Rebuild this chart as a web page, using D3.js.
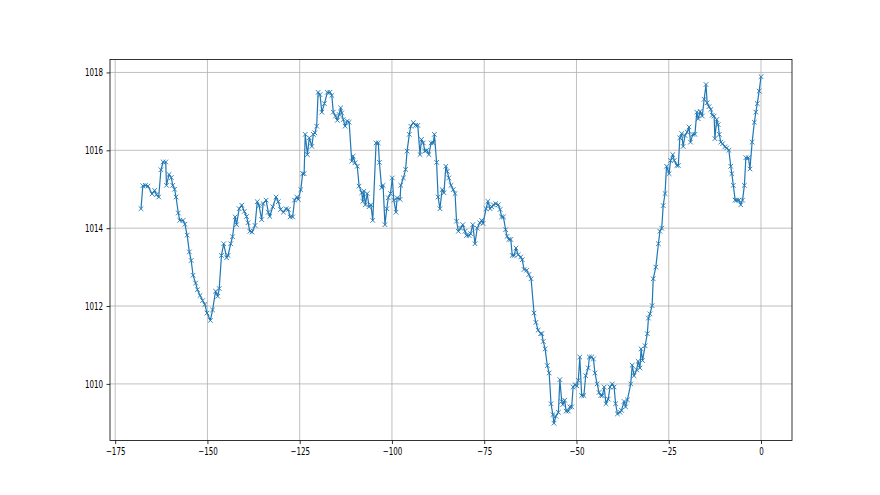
<!DOCTYPE html>
<html>
<head>
  <script src="https://d3js.org/d3.v7.min.js"></script>
  <style>
    body { margin: 0; background: #ffffff; }
    text { font-family: 'DejaVu Sans', sans-serif; font-size: 10px; fill: #000; }
  </style>
</head>
<body>
  <div id="chart"></div>
  <script>
    // hours relative to now, pressure in hPa
    var hours = [
      -168.0, -167.5, -166.8, -166.1, -165.0, -164.3, -163.8, -163.2, -162.6, -162.0,
      -161.3, -161.1, -160.4, -159.8, -159.4, -158.9, -158.5, -157.9, -157.5, -156.6,
      -156.1, -155.5, -154.9, -154.4, -153.9, -153.2, -152.7, -152.0, -151.3, -150.7,
      -150.1, -149.2, -148.6, -147.8, -147.2, -146.8, -146.2, -145.6, -144.8, -144.4,
      -143.7, -143.2, -142.5, -142.1, -141.4, -140.7, -140.0, -139.4, -139.0, -138.5,
      -137.9, -137.1, -136.5, -136.0, -135.3, -134.9, -134.1, -133.5, -133.1, -132.3,
      -131.4, -130.8, -130.2, -129.4, -128.7, -128.1, -127.6, -126.9, -126.4, -125.8,
      -125.4, -124.7, -124.2, -123.8, -123.5, -122.9, -122.4, -121.7, -121.3, -120.9,
      -120.4, -120.0, -119.5, -119.0, -118.3, -117.5, -116.8, -116.3, -115.9, -115.3,
      -114.8, -114.3, -113.9, -113.6, -113.2, -112.7, -112.1, -111.6, -110.9, -110.5,
      -110.0, -109.4, -108.9, -108.2, -107.9, -107.6, -107.2, -106.7, -106.2, -105.7,
      -105.2, -104.3, -103.7, -103.4, -102.8, -102.4, -101.9, -101.4, -101.0, -100.4,
      -99.9, -99.5, -98.9, -98.6, -97.8, -97.6, -96.9, -96.3, -95.9, -95.3,
      -94.9, -94.2, -93.6, -93.0, -92.4, -92.0, -91.5, -91.1, -90.6, -90.0,
      -89.4, -88.8, -88.5, -87.9, -87.5, -87.0, -86.4, -85.9, -85.4, -85.0,
      -84.6, -84.0, -83.4, -82.9, -82.5, -82.0, -81.4, -80.8, -80.2, -79.8,
      -79.1, -78.7, -78.1, -77.5, -76.9, -76.2, -75.7, -75.3, -74.5, -74.0,
      -73.4, -73.0, -72.5, -71.9, -71.2, -70.7, -70.3, -69.8, -69.2, -68.8,
      -68.3, -67.8, -67.4, -66.9, -66.4, -65.8, -65.1, -64.7, -64.2, -63.5,
      -62.9, -62.3, -61.5, -61.0, -60.4, -59.7, -59.4, -59.0, -58.5, -57.9,
      -57.4, -56.9, -56.4, -56.1, -55.6, -54.9, -54.5, -54.0, -53.7, -53.2,
      -52.8, -52.2, -51.8, -51.3, -50.9, -50.4, -49.9, -49.5, -49.1, -48.6,
      -48.0, -47.5, -46.8, -46.5, -45.9, -45.4, -45.0, -44.4, -43.9, -43.4,
      -43.0, -42.5, -42.0, -41.4, -40.9, -40.3, -39.8, -39.4, -38.9, -38.2,
      -37.8, -37.1, -36.7, -36.2, -35.3, -34.9, -34.4, -33.7, -33.3, -32.8,
      -32.5, -32.1, -31.4, -30.8, -30.5, -30.1, -29.5, -29.2, -28.5, -27.8,
      -27.4, -26.9, -26.5, -26.0, -25.6, -24.9, -24.5, -23.9, -23.5, -22.8,
      -22.4, -22.0, -21.5, -21.1, -20.6, -20.0, -19.5, -19.1, -18.5, -17.9,
      -17.4, -17.0, -16.5, -15.9, -15.4, -14.9, -14.6, -14.1, -13.6, -13.2,
      -12.7, -12.5, -12.0, -11.6, -11.3, -10.9, -10.4, -9.8, -9.3, -8.7,
      -8.2, -7.9, -7.5, -7.0, -6.6, -6.0, -5.5, -5.0, -4.5, -4.1,
      -3.4, -3.0, -2.4, -1.8, -1.4, -1.0, -0.5, 0.0
    ];

    var pressure = [
      1014.50, 1015.09, 1015.10, 1015.08, 1014.88, 1014.97, 1014.86, 1014.80, 1015.50, 1015.70,
      1015.70, 1015.10, 1015.38, 1015.30, 1015.10, 1015.00, 1014.80, 1014.39, 1014.20, 1014.20,
      1014.10, 1013.82, 1013.39, 1013.17, 1012.79, 1012.59, 1012.42, 1012.27, 1012.14, 1012.04,
      1011.82, 1011.63, 1011.90, 1012.38, 1012.25, 1012.45, 1013.30, 1013.60, 1013.24, 1013.30,
      1013.60, 1013.78, 1014.29, 1014.09, 1014.50, 1014.59, 1014.43, 1014.30, 1014.14, 1013.92,
      1013.90, 1014.07, 1014.68, 1014.58, 1014.22, 1014.63, 1014.72, 1014.41, 1014.30, 1014.55,
      1014.80, 1014.68, 1014.48, 1014.41, 1014.50, 1014.48, 1014.29, 1014.29, 1014.72, 1014.80,
      1014.74, 1014.99, 1015.40, 1015.40, 1016.41, 1015.89, 1016.32, 1016.10, 1016.41, 1016.45,
      1016.62, 1017.49, 1017.43, 1016.98, 1017.20, 1017.49, 1017.49, 1017.41, 1016.98, 1016.88,
      1016.77, 1016.92, 1017.09, 1016.96, 1016.79, 1016.62, 1016.75, 1016.72, 1015.72, 1015.85,
      1015.68, 1015.59, 1015.08, 1014.91, 1014.69, 1014.95, 1014.60, 1014.89, 1014.55, 1014.60,
      1014.20, 1016.19, 1016.19, 1015.69, 1015.04, 1015.10, 1014.09, 1014.50, 1014.78, 1014.89,
      1015.29, 1014.72, 1014.41, 1014.78, 1014.74, 1015.10, 1015.29, 1015.51, 1015.98, 1016.41,
      1016.62, 1016.71, 1016.64, 1016.64, 1015.89, 1016.28, 1016.19, 1015.98, 1016.00, 1015.89,
      1016.19, 1016.19, 1016.41, 1015.69, 1014.80, 1014.50, 1014.99, 1014.91, 1015.59, 1015.46,
      1015.29, 1015.10, 1014.99, 1014.89, 1014.18, 1013.92, 1014.00, 1014.09, 1013.92, 1013.81,
      1013.81, 1013.86, 1014.09, 1013.60, 1014.00, 1014.14, 1014.20, 1014.12, 1014.50, 1014.69,
      1014.50, 1014.55, 1014.60, 1014.63, 1014.60, 1014.48, 1014.29, 1014.29, 1013.96, 1013.79,
      1013.71, 1013.71, 1013.30, 1013.30, 1013.49, 1013.32, 1013.26, 1013.19, 1012.94, 1012.92,
      1012.81, 1012.70, 1011.82, 1011.58, 1011.38, 1011.29, 1011.29, 1011.09, 1010.90, 1010.47,
      1010.28, 1009.49, 1009.21, 1008.99, 1009.17, 1009.27, 1010.11, 1009.55, 1009.47, 1009.58,
      1009.30, 1009.30, 1009.41, 1009.41, 1009.92, 1009.98, 1009.95, 1010.09, 1010.69, 1009.70,
      1009.70, 1010.21, 1010.41, 1010.69, 1010.69, 1010.64, 1010.28, 1010.00, 1009.78, 1009.70,
      1009.70, 1009.92, 1009.49, 1009.61, 1009.92, 1010.00, 1009.92, 1009.49, 1009.23, 1009.27,
      1009.32, 1009.55, 1009.41, 1009.59, 1010.00, 1010.48, 1010.21, 1010.36, 1010.58, 1010.41,
      1010.90, 1010.60, 1010.98, 1011.29, 1011.69, 1011.80, 1012.01, 1012.70, 1013.00, 1013.60,
      1013.92, 1014.00, 1014.58, 1014.89, 1015.59, 1015.40, 1015.74, 1015.89, 1015.74, 1015.61,
      1015.61, 1016.32, 1016.43, 1016.10, 1016.38, 1016.47, 1016.60, 1016.21, 1016.41, 1016.41,
      1016.98, 1016.81, 1017.00, 1016.88, 1017.31, 1017.69, 1017.22, 1017.12, 1017.05, 1016.90,
      1016.88, 1016.30, 1016.79, 1016.66, 1016.41, 1016.21, 1016.17, 1016.09, 1016.06, 1016.00,
      1015.59, 1015.40, 1015.10, 1014.72, 1014.72, 1014.72, 1014.60, 1014.72, 1015.10, 1015.81,
      1015.81, 1015.52, 1016.21, 1016.72, 1016.98, 1017.20, 1017.52, 1017.89
    ];

    var xTicks = [-175, -150, -125, -100, -75, -50, -25, 0];
    var yTicks = [1010, 1012, 1014, 1016, 1018];

    var width = 880, height = 495;
    var margin = { top: 59.4, right: 88, bottom: 54.45, left: 110 };
    var blue = "#1f77b4";

    var data = hours.map(function (h, i) { return { x: h, y: pressure[i] }; });

    // matplotlib style 5% padding
    function padded(ext) {
      var d = (ext[1] - ext[0]) * 0.05;
      return [ext[0] - d, ext[1] + d];
    }

    var x = d3.scaleLinear()
      .domain(padded(d3.extent(hours)))
      .range([margin.left, width - margin.right]);

    var y = d3.scaleLinear()
      .domain(padded(d3.extent(pressure)))
      .range([height - margin.bottom, margin.top]);

    var svg = d3.select("#chart").append("svg")
      .attr("width", width)
      .attr("height", height);

    var fmt = function (d) { return String(d).replace("-", "\u2212"); };

    // grid
    var grid = svg.append("g").attr("class", "grid")
      .attr("stroke", "#b0b0b0")
      .attr("stroke-width", 0.8);

    grid.selectAll("line.vx")
      .data(xTicks)
      .enter().append("line")
      .attr("x1", function (d) { return x(d); })
      .attr("x2", function (d) { return x(d); })
      .attr("y1", margin.top)
      .attr("y2", height - margin.bottom);

    grid.selectAll("line.hy")
      .data(yTicks)
      .enter().append("line")
      .attr("y1", function (d) { return y(d); })
      .attr("y2", function (d) { return y(d); })
      .attr("x1", margin.left)
      .attr("x2", width - margin.right);

    // line + markers
    var line = d3.line()
      .x(function (d) { return x(d.x); })
      .y(function (d) { return y(d.y); });

    svg.append("path")
      .datum(data)
      .attr("fill", "none")
      .attr("stroke", blue)
      .attr("stroke-width", 1.2)
      .attr("stroke-linejoin", "round")
      .attr("d", line);

    var ms = 2.3;
    svg.append("g")
      .selectAll("path")
      .data(data)
      .enter().append("path")
      .attr("d", function (d) {
        var px = x(d.x), py = y(d.y);
        return "M" + (px - ms) + "," + (py - ms) + "L" + (px + ms) + "," + (py + ms) +
          "M" + (px - ms) + "," + (py + ms) + "L" + (px + ms) + "," + (py - ms);
      })
      .attr("stroke", blue)
      .attr("stroke-width", 0.9)
      .attr("fill", "none");

    // axes
    var xAxis = d3.axisBottom(x).tickValues(xTicks).tickFormat(fmt)
      .tickSize(3.5).tickPadding(3.5);
    var yAxis = d3.axisLeft(y).tickValues(yTicks).tickFormat(fmt)
      .tickSize(3.5).tickPadding(3.5);

    var gx = svg.append("g")
      .attr("transform", "translate(0," + (height - margin.bottom) + ")")
      .call(xAxis);
    var gy = svg.append("g")
      .attr("transform", "translate(" + margin.left + ",0)")
      .call(yAxis);

    [gx, gy].forEach(function (g) {
      g.select(".domain").remove();
      g.selectAll(".tick line").attr("stroke", "#000").attr("stroke-width", 0.8);
      g.selectAll(".tick text")
        .style("font-family", "'DejaVu Sans', sans-serif")
        .style("font-size", "10px")
        .attr("fill", "#000")
        .each(function () {
          // labels in the reference are horizontally squeezed
          var len = this.getComputedTextLength();
          d3.select(this)
            .attr("textLength", len * 0.71)
            .attr("lengthAdjust", "spacingAndGlyphs");
        });
    });

    // frame
    svg.append("rect")
      .attr("x", margin.left)
      .attr("y", margin.top)
      .attr("width", width - margin.left - margin.right)
      .attr("height", height - margin.top - margin.bottom)
      .attr("fill", "none")
      .attr("stroke", "#000")
      .attr("stroke-width", 0.8);
  </script>
</body>
</html>
